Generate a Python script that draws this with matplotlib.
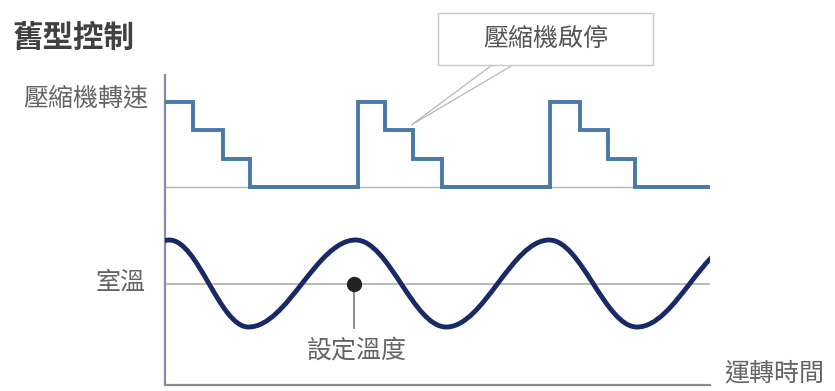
import matplotlib
matplotlib.use("Agg")
import matplotlib.pyplot as plt
from matplotlib.path import Path
from matplotlib.patches import PathPatch, Rectangle

plt.rcParams['font.family'] = ['Noto Sans CJK TC', 'DejaVu Sans']

# compressor speed steps (time, level)
step_t = [0, 5.1, 10.6, 15.6, 35.4, 40.4, 45.5, 50.9, 70.6, 76.1, 81.3, 86.2, 100]
step_lv = [3, 2, 1, 0, 3, 2, 1, 0, 3, 2, 1, 0, 0]

# room temperature peaks / troughs (time, relative to set point)
temp_t = [-15, 0.8, 15.3, 35.0, 51.6, 70.5, 86.6, 106]
temp_v = [-1, 1, -1, 1, -1, 1, -1, 1]

set_t = 34.7

title = '舊型控制'
lbl_speed = '壓縮機轉速'
lbl_temp = '室溫'
lbl_set = '設定溫度'
lbl_time = '運轉時間'
lbl_box = '壓縮機啟停'

W, H = 835, 391
fig = plt.figure(figsize=(W / 100, H / 100), dpi=100)


def fx(x):
    return x / W


def fy(y):
    return 1 - y / H


ax_top = fig.add_axes([fx(165), fy(210), fx(545), (210 - 75) / H])
ax_bot = fig.add_axes([fx(165), fy(385), fx(545), (385 - 210) / H])

for ax in (ax_top, ax_bot):
    ax.set_xlim(0, 100)
    ax.set_xticks([])
    ax.set_yticks([])
    for s in ('top', 'right', 'bottom'):
        ax.spines[s].set_visible(False)
    ax.spines['left'].set_color('#8a8aa6')
    ax.spines['left'].set_linewidth(1.6)
    ax.patch.set_alpha(0)

ax_bot.spines['bottom'].set_visible(True)
ax_bot.spines['bottom'].set_color('#8c8c8c')
ax_bot.spines['bottom'].set_linewidth(1.6)

ax_top.set_ylim(-0.81, 3.95)
ax_bot.set_ylim(-2.333, 1.69)

# upper panel: compressor speed
ax_top.axhline(0, color='#b4b4b4', lw=1.0, zorder=1)
ax_top.step(step_t, step_lv, where='post', color='#4a78a8', lw=2.8, zorder=3,
            solid_joinstyle='miter')

# lower panel: room temperature (smooth s-curves between extremes)
verts = [(temp_t[0], temp_v[0])]
codes = [Path.MOVETO]
for i in range(len(temp_t) - 1):
    d = (temp_t[i + 1] - temp_t[i]) * 0.364
    verts += [(temp_t[i] + d, temp_v[i]), (temp_t[i + 1] - d, temp_v[i + 1]),
              (temp_t[i + 1], temp_v[i + 1])]
    codes += [Path.CURVE4] * 3
ax_bot.axhline(0, color='#b4b4b4', lw=1.3, zorder=1)
ax_bot.add_patch(PathPatch(Path(verts, codes), fill=False, ec='#172a66', lw=3.5,
                           zorder=3, capstyle='round'))

ax_bot.plot([set_t, set_t], [0, -1.02], color='#8e8e8e', lw=1.4, zorder=2)
ax_bot.plot(set_t, 0, 'o', ms=10, color='#222222', zorder=4)
ax_bot.text(set_t + 0.5, -1.53, lbl_set, ha='center', va='center',
            fontsize=18, color='#646464')

# texts
fig.text(fx(13), fy(38), title, ha='left', va='center', fontsize=22,
         fontweight='bold', color='#404040')
fig.text(fx(148), fy(98), lbl_speed, ha='right', va='center', fontsize=18, color='#646464')
fig.text(fx(146), fy(283), lbl_temp, ha='right', va='center', fontsize=18, color='#646464')
fig.text(fx(724), fy(373), lbl_time, ha='left', va='center', fontsize=18, color='#646464')

# callout box
fig.add_artist(Rectangle((fx(438), fy(65)), fx(215), 52 / H, transform=fig.transFigure,
                         fc='white', ec='#c8c8c8', lw=1.0))
fig.text(fx(546), fy(39), lbl_box, ha='center', va='center', fontsize=18, color='#555555')
for bx in (492, 513):
    ax_top.annotate('', xy=(45.3, 2.2), xytext=(fx(bx), fy(65)), textcoords='figure fraction',
                    arrowprops=dict(arrowstyle='-', color='#b8b8b8', lw=0.9,
                                    shrinkA=0, shrinkB=0))

fig.savefig('out.png', dpi=100)
